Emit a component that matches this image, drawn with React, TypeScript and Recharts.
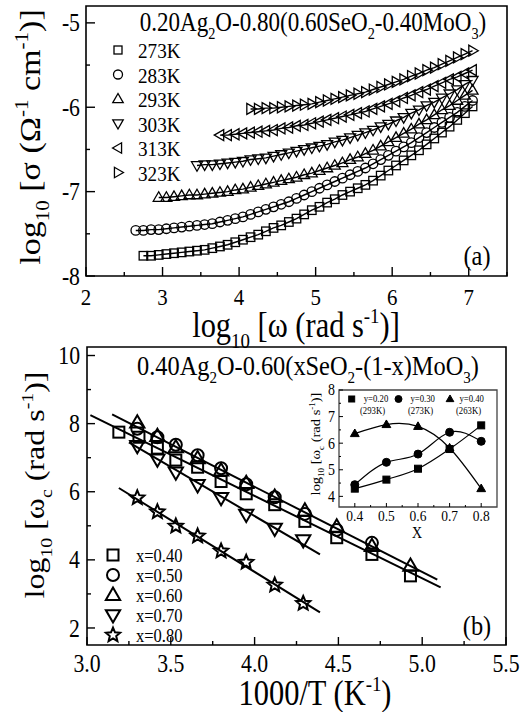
import React from "react";
import { ComposedChart, Scatter, Line, XAxis, YAxis, ReferenceArea } from "recharts";

const FONT = '"Liberation Serif", "Times New Roman", serif';
const SX = 0.87; // the figure is a bit squeezed horizontally

// ---------- panel (a): log sigma vs log omega ----------
const logOmega = [
  2.65, 2.75, 2.85, 2.95, 3.05, 3.15, 3.25, 3.35, 3.45, 3.55, 3.65, 3.75, 3.85, 3.95, 4.05,
  4.15, 4.25, 4.35, 4.45, 4.55, 4.65, 4.75, 4.85, 4.95, 5.05, 5.15, 5.25, 5.35, 5.45, 5.55,
  5.65, 5.75, 5.85, 5.95, 6.05, 6.15, 6.25, 6.35, 6.45, 6.55, 6.65, 6.75, 6.85, 6.95, 7.05,
];
const sigma273 = [
  -7.76, -7.76, -7.75, -7.74, -7.73, -7.72, -7.71, -7.7, -7.69, -7.67, -7.65, -7.63, -7.6, -7.57,
  -7.54, -7.51, -7.47, -7.43, -7.4, -7.36, -7.32, -7.27, -7.22, -7.18, -7.13, -7.09, -7.04, -7.0,
  -6.96, -6.92, -6.87, -6.81, -6.75, -6.69, -6.63, -6.57, -6.51, -6.44, -6.37, -6.3, -6.23, -6.15,
  -6.07, -5.99,
];
const sigma283 = [
  -7.46, -7.46, -7.45, -7.45, -7.44, -7.43, -7.42, -7.41, -7.4, -7.39, -7.38, -7.36, -7.34, -7.32,
  -7.3, -7.27, -7.24, -7.21, -7.18, -7.15, -7.12, -7.08, -7.04, -7.0, -6.96, -6.92, -6.88, -6.84,
  -6.8, -6.76, -6.72, -6.67, -6.62, -6.57, -6.52, -6.47, -6.42, -6.36, -6.3, -6.24, -6.18, -6.12,
  -6.06, -5.99, -5.92,
];
const sigma293 = [
  -7.07, -7.07, -7.06, -7.05, -7.04, -7.04, -7.03, -7.02, -7.01, -7.0, -6.98, -6.97, -6.95, -6.93,
  -6.91, -6.89, -6.87, -6.85, -6.83, -6.8, -6.78, -6.75, -6.72, -6.69, -6.66, -6.62, -6.59, -6.55,
  -6.51, -6.46, -6.41, -6.36, -6.31, -6.26, -6.2, -6.15, -6.09, -6.03, -5.98, -5.92, -5.86, -5.8,
];
const sigma303 = [
  -6.69, -6.68, -6.68, -6.67, -6.66, -6.65, -6.64, -6.62, -6.61, -6.6, -6.58, -6.56, -6.54, -6.52,
  -6.5, -6.48, -6.46, -6.44, -6.41, -6.39, -6.36, -6.33, -6.3, -6.27, -6.23, -6.2, -6.16, -6.12,
  -6.07, -6.03, -5.98, -5.94, -5.89, -5.84, -5.79, -5.73, -5.68,
];
const sigma313 = [
  -6.33, -6.33, -6.32, -6.31, -6.3, -6.29, -6.28, -6.27, -6.25, -6.24, -6.22, -6.21, -6.19, -6.17,
  -6.15, -6.13, -6.11, -6.09, -6.07, -6.05, -6.02, -5.99, -5.96, -5.93, -5.89, -5.86, -5.82, -5.79,
  -5.75, -5.71, -5.67, -5.64, -5.6, -5.56,
];
const sigma323 = [
  -6.02, -6.02, -6.01, -6.01, -6.0, -5.99, -5.98, -5.97, -5.96, -5.94, -5.92, -5.9, -5.88, -5.86,
  -5.84, -5.82, -5.79, -5.76, -5.73, -5.7, -5.67, -5.63, -5.6, -5.56, -5.53, -5.49, -5.45, -5.41,
  -5.37, -5.33,
];
const tempLabels = ["273K", "283K", "293K", "303K", "313K", "323K"];

const xTicksA = [2, 2.5, 3, 3.5, 4, 4.5, 5, 5.5, 6, 6.5, 7, 7.5];
const xMajorA = [2, 3, 4, 5, 6, 7];
const yTicksA = [-8, -7.5, -7, -6.5, -6, -5.5, -5];
const yMajorA = [-8, -7, -6, -5];

// ---------- panel (b): log omega_c vs 1000/T ----------
const wc40: [number, number][] = [[3.19, 7.75], [3.31, 7.6], [3.42, 7.28], [3.53, 6.93], [3.66, 6.72], [3.8, 6.3], [3.95, 5.94], [4.12, 5.62], [4.3, 5.13], [4.49, 4.65], [4.7, 4.16], [4.93, 3.53]];
const wc50: [number, number][] = [[3.3, 7.85], [3.42, 7.6], [3.53, 7.38], [3.66, 7.07], [3.8, 6.69], [3.95, 6.22], [4.12, 5.84], [4.3, 5.35], [4.49, 4.88], [4.7, 4.5]];
const wc60: [number, number][] = [[3.3, 8.03], [3.42, 7.63], [3.53, 7.3], [3.66, 6.98], [3.8, 6.62], [3.95, 6.25], [4.12, 5.85], [4.3, 5.44], [4.49, 4.97], [4.7, 4.4], [4.93, 3.82]];
const wc70: [number, number][] = [[3.3, 7.35], [3.42, 6.95], [3.53, 6.57], [3.66, 6.2], [3.8, 5.82], [3.95, 5.33], [4.12, 4.92], [4.29, 4.58]];
const wc80: [number, number][] = [[3.3, 5.82], [3.42, 5.41], [3.53, 4.99], [3.66, 4.7], [3.8, 4.26], [3.95, 3.93], [4.12, 3.26], [4.29, 2.72]];
// straight fits
const fit4060: [number, number][] = [[3.15, 8.27], [5.09, 3.42]];
const fit40: [number, number][] = [[3.02, 8.25], [5.11, 3.19]];
const fit70: [number, number][] = [[3.25, 7.45], [4.39, 4.16]];
const fit80: [number, number][] = [[3.19, 6.11], [4.39, 2.46]];
const compLabels = ["x=0.40", "x=0.50", "x=0.60", "x=0.70", "x=0.80"];

const xTicksB = [3, 3.25, 3.5, 3.75, 4, 4.25, 4.5, 4.75, 5, 5.25, 5.5];
const xMajorB = [3, 3.5, 4, 4.5, 5, 5.5];
const yTicksB = [2, 3, 4, 5, 6, 7, 8, 9, 10];
const yMajorB = [2, 4, 6, 8, 10];

// ---------- inset ----------
const insetX = [0.4, 0.5, 0.6, 0.7, 0.8];
const wcY20 = [4.29, 4.63, 5.04, 5.78, 6.67];
const wcY30 = [4.44, 5.28, 5.59, 6.41, 6.07];
const wcY40 = [6.36, 6.7, 6.63, 5.82, 4.29];
const insetLabels = [["y=0.20", "(293K)"], ["y=0.30", "(273K)"], ["y=0.40", "(263K)"]];
const xTicksI = [0.4, 0.45, 0.5, 0.55, 0.6, 0.65, 0.7, 0.75, 0.8];
const xMajorI = [0.4, 0.5, 0.6, 0.7, 0.8];
const yTicksI = [4, 4.5, 5, 5.5, 6, 6.5, 7, 7.5, 8];
const yMajorI = [4, 5, 6, 7, 8];

type Kind = "square" | "circle" | "up" | "down" | "left" | "right" | "star";

function Marker({ cx, cy, kind, size, sw, filled }: { cx: number; cy: number; kind: Kind; size: number; sw: number; filled?: boolean }) {
  if (cx == null || cy == null) return null;
  const h = size / 2;
  const st = { fill: filled ? "#000" : "none", stroke: "#000", strokeWidth: sw };
  const poly = (pts: [number, number][]) => (
    <polygon points={pts.map(([a, b]) => `${cx + a},${cy + b}`).join(" ")} {...st} />
  );
  switch (kind) {
    case "square":
      return <rect x={cx - h} y={cy - h} width={size} height={size} {...st} />;
    case "circle":
      return <circle cx={cx} cy={cy} r={h} {...st} />;
    case "up":
      return poly([[0, -h * 1.15], [-h * 1.1, h * 0.75], [h * 1.1, h * 0.75]]);
    case "down":
      return poly([[0, h * 1.15], [-h * 1.1, -h * 0.75], [h * 1.1, -h * 0.75]]);
    case "left":
      return poly([[-h * 1.15, 0], [h * 0.75, -h * 1.1], [h * 0.75, h * 1.1]]);
    case "right":
      return poly([[h * 1.15, 0], [-h * 0.75, -h * 1.1], [-h * 0.75, h * 1.1]]);
    default: {
      const pts: [number, number][] = [];
      for (let i = 0; i < 10; i++) {
        const r = i % 2 === 0 ? h * 1.15 : h * 0.52;
        const a = -Math.PI / 2 + (i * Math.PI) / 5;
        pts.push([r * Math.cos(a), r * Math.sin(a)]);
      }
      return poly(pts);
    }
  }
}

type Seg = string | [string, "sub" | "sup"];

function T({ x, y, size, segs, anchor = "start", rot = 0, base = "auto" }: { x: number; y: number; size: number; segs: Seg[]; anchor?: string; rot?: number; base?: string }) {
  let cur = 0;
  const spans = segs.map((s, i) => {
    const [t, k] = typeof s === "string" ? [s, ""] : s;
    const target = k === "sub" ? size * 0.3 : k === "sup" ? -size * 0.4 : 0;
    const dy = target - cur;
    cur = target;
    return (
      <tspan key={i} dy={dy} fontSize={k ? size * 0.62 : size}>
        {t}
      </tspan>
    );
  });
  return (
    <text
      transform={`translate(${x} ${y}) scale(${SX} 1)${rot ? ` rotate(${rot})` : ""}`}
      textAnchor={anchor as any}
      dominantBaseline={base as any}
      fontFamily={FONT}
      fontSize={size}
      fill="#000"
      style={{ whiteSpace: "pre" }}
    >
      {spans}
    </text>
  );
}

function tickFactory(o: { side: "bottom" | "left"; gap: number; majors: number[]; major: number; minor: number; size: number; off: number; digits: number; sw: number }) {
  return (p: any) => {
    const v = p.payload.value as number;
    const isMajor = o.majors.some((m) => Math.abs(m - v) < 1e-6);
    const len = isMajor ? o.major : o.minor;
    const label = v.toFixed(o.digits);
    if (o.side === "bottom") {
      const ay = p.y - o.gap;
      return (
        <g>
          <line x1={p.x} x2={p.x} y1={ay} y2={ay - len} stroke="#000" strokeWidth={o.sw} />
          {isMajor && <T x={p.x} y={ay + o.off} size={o.size} anchor="middle" base="central" segs={[label]} />}
        </g>
      );
    }
    const ax = p.x + o.gap;
    return (
      <g>
        <line x1={ax} x2={ax + len} y1={p.y} y2={p.y} stroke="#000" strokeWidth={o.sw} />
        {isMajor && <T x={ax - o.off} y={p.y} size={o.size} anchor="end" base="central" segs={[label]} />}
      </g>
    );
  };
}

const pts = (xs: number[], ys: number[]) => ys.map((y, i) => ({ x: xs[xs.length - ys.length + i], y }));
const pairs = (arr: [number, number][]) => arr.map(([x, y]) => ({ x, y }));

const seriesA: { data: number[]; kind: Kind; size: number }[] = [
  { data: sigma273, kind: "square", size: 8.5 },
  { data: sigma283, kind: "circle", size: 9.5 },
  { data: sigma293, kind: "up", size: 10 },
  { data: sigma303, kind: "down", size: 10 },
  { data: sigma313, kind: "left", size: 10 },
  { data: sigma323, kind: "right", size: 10 },
];
const seriesB: { data: [number, number][]; kind: Kind; size: number }[] = [
  { data: wc40, kind: "square", size: 11 },
  { data: wc50, kind: "circle", size: 12 },
  { data: wc60, kind: "up", size: 13 },
  { data: wc70, kind: "down", size: 13 },
  { data: wc80, kind: "star", size: 13 },
];
const insetSeries: { data: number[]; kind: Kind; size: number; type: "monotone" | "natural" }[] = [
  { data: wcY20, kind: "square", size: 7, type: "monotone" },
  { data: wcY30, kind: "circle", size: 8, type: "natural" },
  { data: wcY40, kind: "up", size: 8, type: "natural" },
];

export default function App() {
  return (
    <div style={{ position: "absolute", left: 0, top: 0, width: 522, height: 712, background: "#fff" }}>
      {/* panel (a) */}
      <div style={{ position: "absolute", left: 0, top: 0 }}>
        <ComposedChart width={522} height={340} margin={{ top: 6, right: 15, bottom: 24, left: 0 }}>
          <XAxis
            type="number" dataKey="x" domain={[2, 7.5]} allowDataOverflow ticks={xTicksA} interval={0}
            height={40} tickSize={0} tickMargin={10} axisLine={false} tickLine={false}
            tick={tickFactory({ side: "bottom", gap: 10, majors: xMajorA, major: 9, minor: 4, size: 24, off: 20, digits: 0, sw: 1.4 })}
          />
          <YAxis
            type="number" dataKey="y" domain={[-8, -4.8]} allowDataOverflow ticks={yTicksA} interval={0}
            width={86} tickSize={0} tickMargin={10} axisLine={false} tickLine={false}
            tick={tickFactory({ side: "left", gap: 10, majors: yMajorA, major: 9, minor: 4, size: 25, off: 6, digits: 0, sw: 1.4 })}
          />
          <ReferenceArea x1={2} x2={7.5} y1={-8} y2={-4.8} fill="none" stroke="#000" strokeWidth={1.6} ifOverflow="visible" />
          {seriesA.map((s, i) => (
            <Scatter
              key={i}
              data={pts(logOmega, s.data)}
              line={{ stroke: "#000", strokeWidth: 1.4 }}
              lineType="joint"
              isAnimationActive={false}
              shape={(p: any) => <Marker cx={p.cx} cy={p.cy} kind={s.kind} size={s.size} sw={1.3} />}
            />
          ))}
        </ComposedChart>
      </div>

      {/* panel (b) */}
      <div style={{ position: "absolute", left: 0, top: 340 }}>
        <ComposedChart width={522} height={372} margin={{ top: 7, right: 16, bottom: 27, left: 0 }}>
          <XAxis
            type="number" dataKey="x" domain={[3, 5.5]} allowDataOverflow ticks={xTicksB} interval={0}
            height={40} tickSize={0} tickMargin={10} axisLine={false} tickLine={false}
            tick={tickFactory({ side: "bottom", gap: 10, majors: xMajorB, major: 8, minor: 4, size: 25, off: 18, digits: 1, sw: 1.4 })}
          />
          <YAxis
            type="number" dataKey="y" domain={[1.5, 10.25]} allowDataOverflow ticks={yTicksB} interval={0}
            width={87} tickSize={0} tickMargin={10} axisLine={false} tickLine={false}
            tick={tickFactory({ side: "left", gap: 10, majors: yMajorB, major: 8, minor: 4, size: 25, off: 7, digits: 0, sw: 1.4 })}
          />
          <ReferenceArea x1={3} x2={5.5} y1={1.5} y2={10.25} fill="none" stroke="#000" strokeWidth={1.6} ifOverflow="visible" />
          {[fit4060, fit40, fit70, fit80].map((f, i) => (
            <Line key={"f" + i} data={pairs(f)} dataKey="y" type="linear" stroke="#000" strokeWidth={2} dot={false} isAnimationActive={false} />
          ))}
          {seriesB.map((s, i) => (
            <Scatter
              key={i}
              data={pairs(s.data)}
              isAnimationActive={false}
              shape={(p: any) => <Marker cx={p.cx} cy={p.cy} kind={s.kind} size={s.size} sw={2} />}
            />
          ))}
        </ComposedChart>
      </div>

      {/* inset */}
      <div style={{ position: "absolute", left: 290, top: 380 }}>
        <ComposedChart width={215} height={150} margin={{ top: 10, right: 8, bottom: 0, left: 0 }}>
          <XAxis
            type="number" dataKey="x" domain={[0.35, 0.85]} allowDataOverflow ticks={xTicksI} interval={0}
            height={23} tickSize={0} tickMargin={5} axisLine={false} tickLine={false}
            tick={tickFactory({ side: "bottom", gap: 5, majors: xMajorI, major: 4, minor: 2, size: 15.5, off: 9, digits: 1, sw: 1 })}
          />
          <YAxis
            type="number" dataKey="y" domain={[3.6, 8]} allowDataOverflow ticks={yTicksI} interval={0}
            width={49} tickSize={0} tickMargin={5} axisLine={false} tickLine={false}
            tick={tickFactory({ side: "left", gap: 5, majors: yMajorI, major: 4, minor: 2, size: 16, off: 4, digits: 0, sw: 1 })}
          />
          <ReferenceArea x1={0.35} x2={0.85} y1={3.6} y2={8} fill="none" stroke="#444" strokeWidth={1.3} ifOverflow="visible" />
          {insetSeries.map((s, i) => (
            <Line key={"l" + i} data={pts(insetX, s.data)} dataKey="y" type={s.type} stroke="#000" strokeWidth={1.2} dot={false} isAnimationActive={false} />
          ))}
          {insetSeries.map((s, i) => (
            <Scatter
              key={i}
              data={pts(insetX, s.data)}
              isAnimationActive={false}
              shape={(p: any) => <Marker cx={p.cx} cy={p.cy} kind={s.kind} size={s.size} sw={1} filled />}
            />
          ))}
        </ComposedChart>
      </div>

      {/* texts and legends */}
      <svg width={522} height={712} style={{ position: "absolute", left: 0, top: 0, pointerEvents: "none" }}>
        <T x={313} y={31} size={26.5} anchor="middle" segs={["0.20Ag", ["2", "sub"], "O-0.80(0.60SeO", ["2", "sub"], "-0.40MoO", ["3", "sub"], ")"]} />
        {seriesA.map((s, i) => (
          <g key={i}>
            <Marker cx={118} cy={50 + i * 24.5} kind={s.kind} size={s.size - 0.5} sw={1.3} />
            <T x={138} y={51 + i * 24.5} size={22} base="central" segs={[tempLabels[i]]} />
          </g>
        ))}
        <T x={477} y={255} size={28} anchor="middle" base="central" segs={["(a)"]} />
        <T x={40} y={137} size={34} anchor="middle" rot={-90} segs={["log", ["10", "sub"], " [σ (Ω", ["-1", "sup"], " cm", ["-1", "sup"], ")]"]} />
        <T x={296} y={337} size={35} anchor="middle" segs={["log", ["10", "sub"], " [ω (rad s", ["-1", "sup"], ")]"]} />

        <T x={308} y={375} size={28} anchor="middle" segs={["0.40Ag", ["2", "sub"], "O-0.60(xSeO", ["2", "sub"], "-(1-x)MoO", ["3", "sub"], ")"]} />
        {seriesB.map((s, i) => (
          <g key={i}>
            <Marker cx={113} cy={555 + i * 20} kind={s.kind} size={s.size} sw={2} />
            <T x={136} y={556 + i * 20} size={19} base="central" segs={[compLabels[i]]} />
          </g>
        ))}
        <T x={477} y={625} size={28} anchor="middle" base="central" segs={["(b)"]} />
        <T x={44} y={485} size={32} anchor="middle" rot={-90} segs={["log", ["10", "sub"], " [ω", ["c", "sub"], " (rad s", ["-1", "sup"], ")]"]} />
        <T x={315} y={705} size={35} anchor="middle" segs={["1000/T (K", ["-1", "sup"], ")"]} />

        <T x={320} y={444} size={14.5} anchor="middle" rot={-90} segs={["log", ["10", "sub"], " [ω", ["c", "sub"], " (rad s", ["-1", "sup"], ")]"]} />
        <T x={417} y={533} size={16} anchor="middle" base="central" segs={["X"]} />
        {insetSeries.map((s, i) => (
          <g key={i}>
            <Marker cx={[351.7, 398.5, 450][i]} cy={399} kind={s.kind} size={s.size - 1} sw={1} filled />
            <T x={[376, 422.7, 471.7][i]} y={399} size={10} anchor="middle" base="central" segs={[insetLabels[i][0]]} />
            <T x={[372.5, 420.5, 468.5][i]} y={411} size={10} anchor="middle" base="central" segs={[insetLabels[i][1]]} />
          </g>
        ))}
      </svg>
    </div>
  );
}
